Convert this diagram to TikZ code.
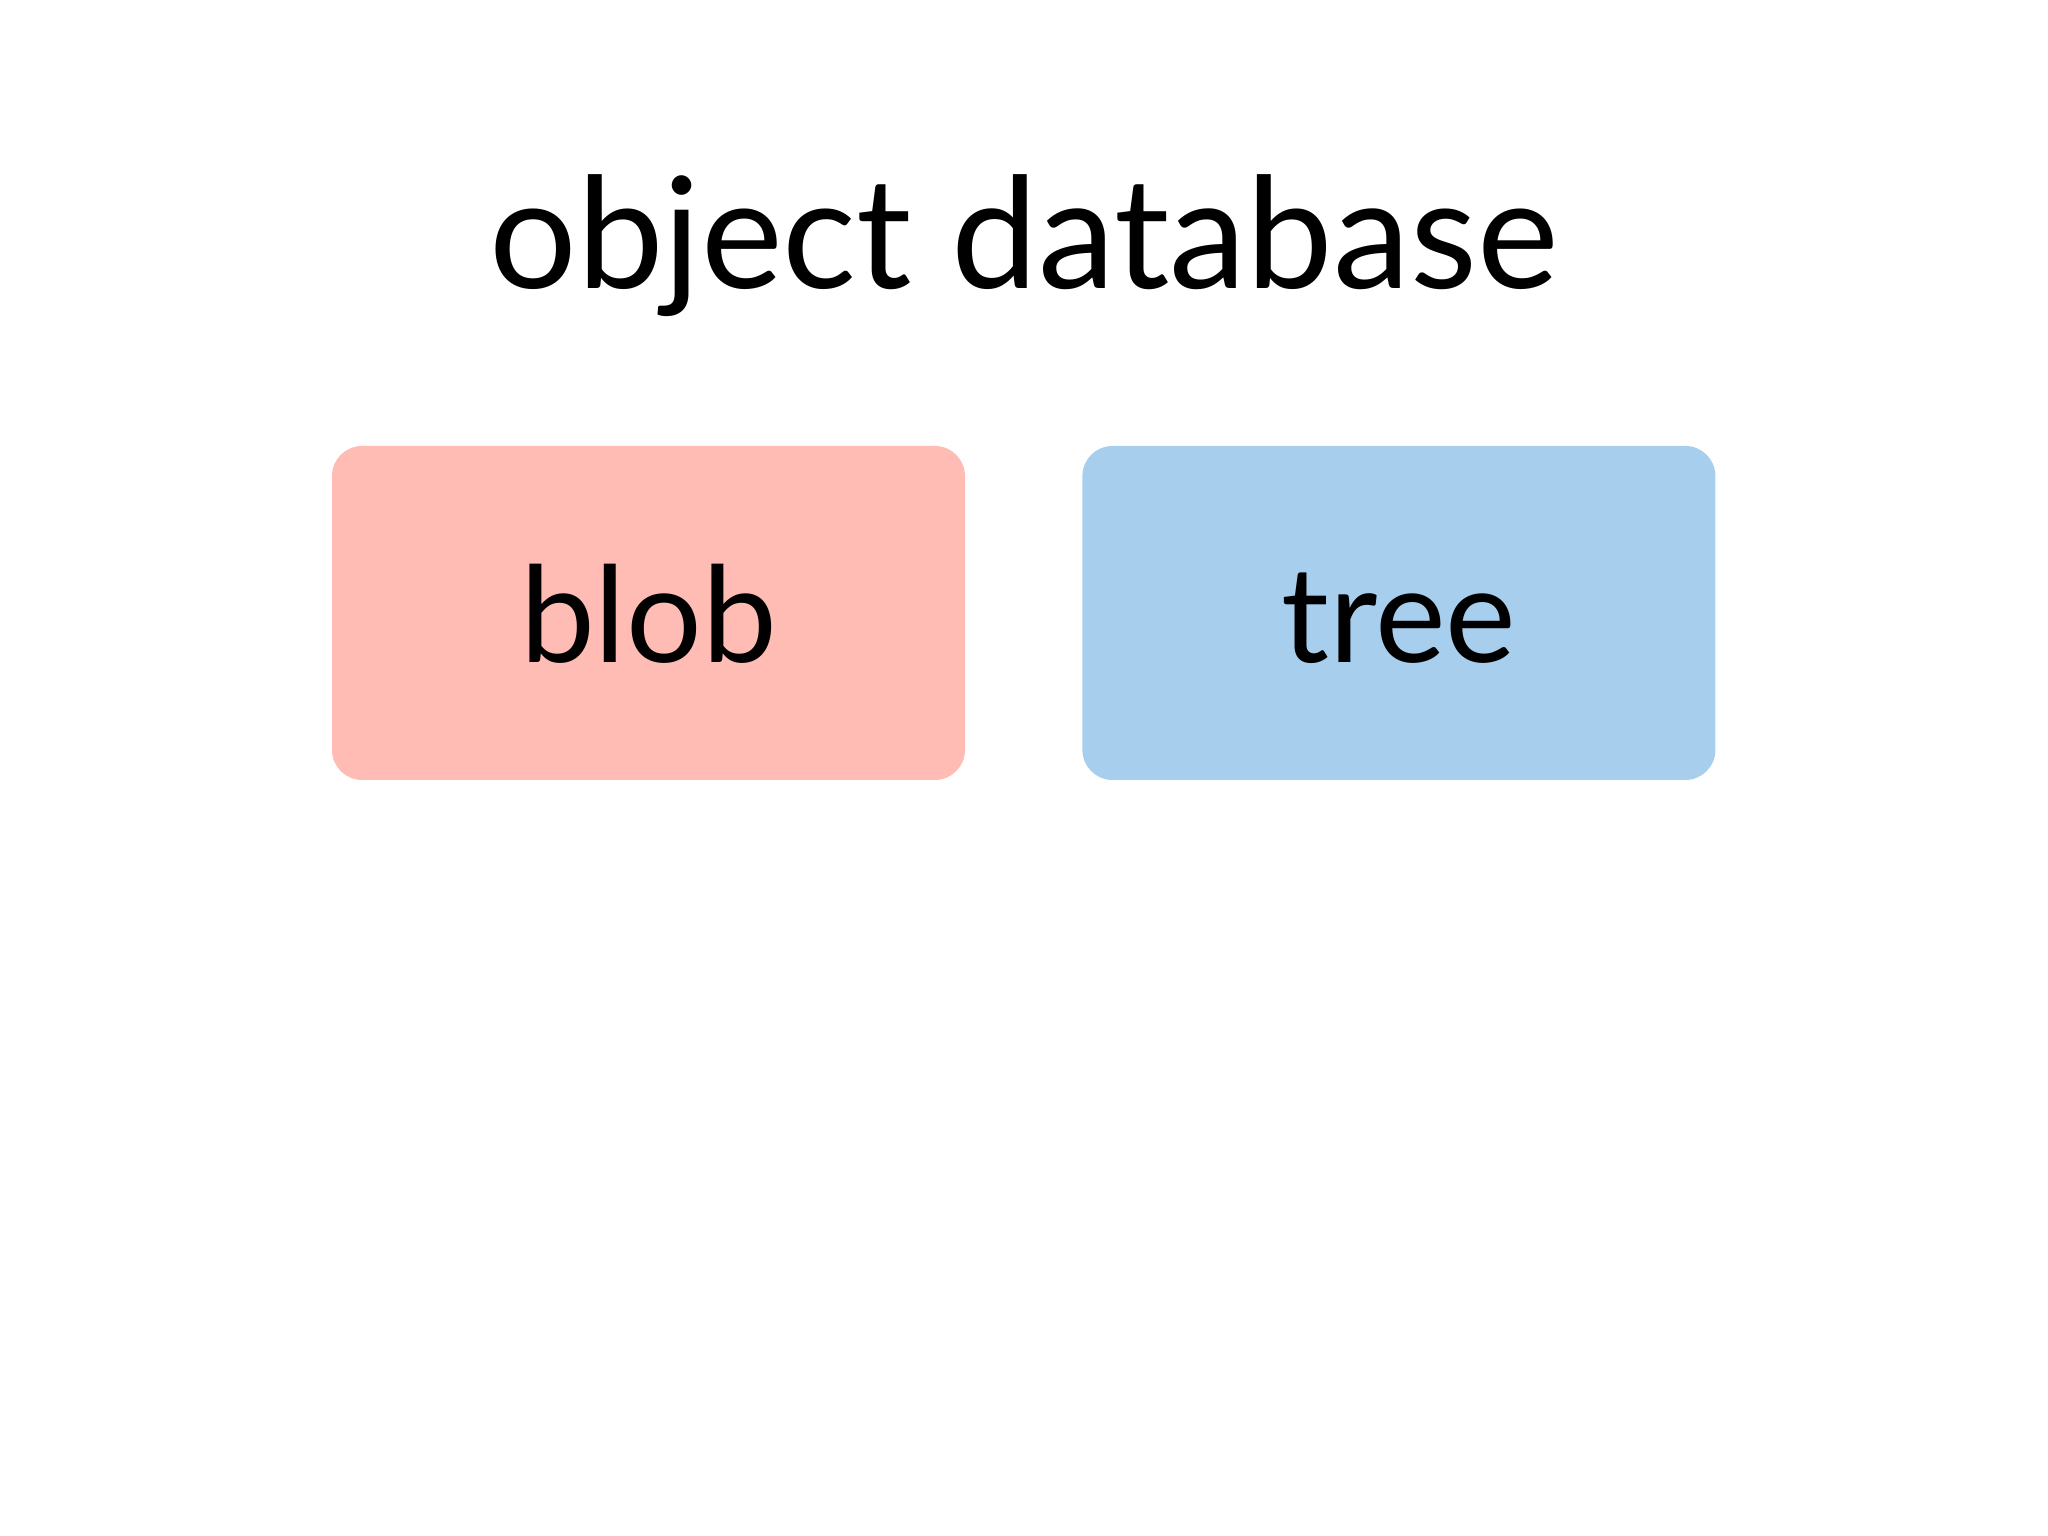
\documentclass[tikz,border=0pt]{standalone}
\usepackage{fontspec}
\setmainfont{Lato}
\usepackage{tikz}
\usetikzlibrary{shapes, positioning}

\definecolor{blobpink}{RGB}{254,188,181}
\definecolor{treeblue}{RGB}{168,206,238}

\begin{document}
\begin{tikzpicture}

\tikzstyle{store} = [shape=rectangle, rounded corners=0.3cm, minimum width=6.33cm, minimum height=3.34cm, inner sep=0pt, text height=0.99cm, text depth=0pt, font=\fontsize{38}{40}\selectfont]

\useasboundingbox (0,0) rectangle (20.48,15.36);

%Creating Title and Store Blocks
\node [anchor=base, font=\fontsize{44}{48}\selectfont] at (10.24,12.47) (title) {object database};
\node [store, fill=blobpink] at (6.485,9.23) (blob) {blob};
\node [store, fill=treeblue, right=1.16cm of blob] (tree) {tree};

\end{tikzpicture}
\end{document}
